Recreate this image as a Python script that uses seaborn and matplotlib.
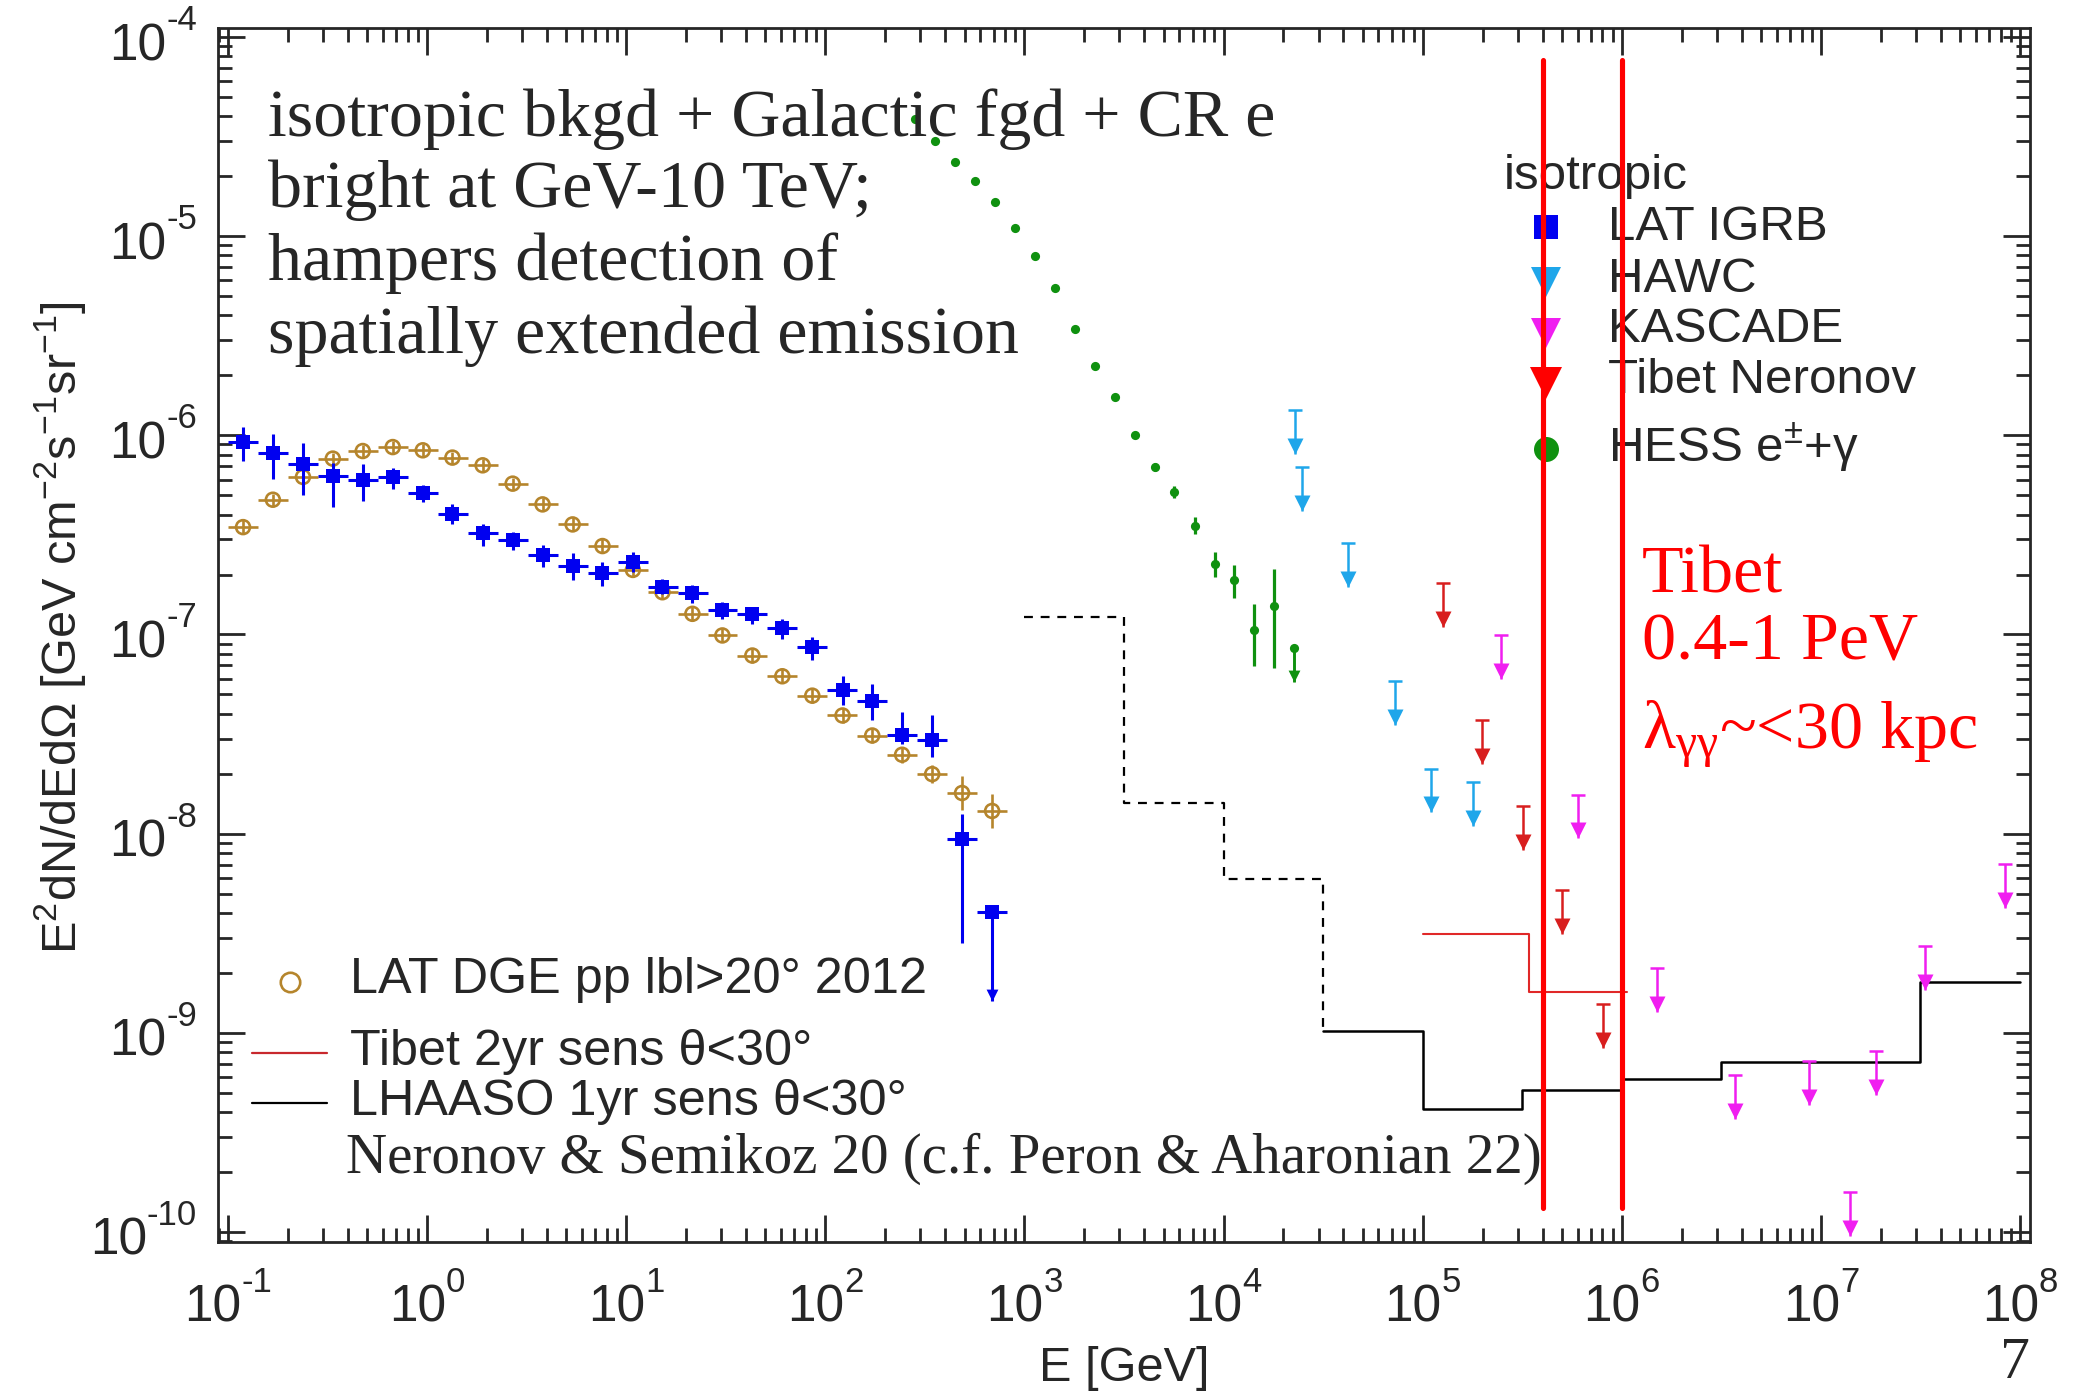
import numpy as np
import matplotlib
matplotlib.use("Agg")
import matplotlib.pyplot as plt
from matplotlib.ticker import LogLocator, NullFormatter
from matplotlib.transforms import blended_transform_factory, offset_copy
import seaborn as sns

# ---------------------------------------------------------------- data
# energies in GeV, fluxes E^2 dN/dE dOmega in GeV cm^-2 s^-1 sr^-1

# Fermi-LAT isotropic gamma-ray background (IGRB)
igrb_edges = [0.100, 0.141, 0.200, 0.283, 0.400, 0.566, 0.800, 1.13, 1.60,
              2.26, 3.20, 4.53, 6.40, 9.05, 12.8, 18.1, 25.6, 36.2, 51.2,
              72.4, 102.0, 145.0, 205.0, 290.0, 410.0, 580.0, 820.0]
igrb_energy = [0.119, 0.168, 0.238, 0.336, 0.475, 0.672, 0.951, 1.34, 1.90,
               2.69, 3.80, 5.38, 7.60, 10.8, 15.2, 21.5, 30.4, 43.0, 60.8,
               86.0, 122.0, 172.0, 243.0, 344.0, 486.0, 688.0]
igrb_flux = [9.25e-7, 8.15e-7, 7.15e-7, 6.25e-7, 5.98e-7, 6.18e-7, 5.15e-7,
             4.05e-7, 3.24e-7, 2.99e-7, 2.51e-7, 2.20e-7, 2.04e-7, 2.31e-7,
             1.73e-7, 1.61e-7, 1.33e-7, 1.27e-7, 1.08e-7, 8.63e-8, 5.24e-8,
             4.66e-8, 3.13e-8, 2.96e-8, 9.4e-9, 4.06e-9]
igrb_flux_hi = [1.10e-6, 1.02e-6, 9.14e-7, 7.26e-7, 7.21e-7, 6.89e-7, 5.61e-7,
                4.54e-7, 3.57e-7, 3.27e-7, 2.80e-7, 2.56e-7, 2.31e-7, 2.59e-7,
                1.90e-7, 1.78e-7, 1.45e-7, 1.38e-7, 1.20e-7, 9.68e-8, 6.17e-8,
                5.61e-8, 4.07e-8, 3.96e-8, 1.26e-8, 4.06e-9]
igrb_flux_lo = [7.40e-7, 6.05e-7, 4.99e-7, 4.39e-7, 4.68e-7, 5.40e-7, 4.63e-7,
                3.57e-7, 2.78e-7, 2.67e-7, 2.18e-7, 1.88e-7, 1.76e-7, 2.06e-7,
                1.60e-7, 1.44e-7, 1.19e-7, 1.13e-7, 9.51e-8, 7.46e-8, 4.45e-8,
                3.73e-8, 2.82e-8, 2.42e-8, 2.81e-9, 1.45e-9]
igrb_limit_index = [25]

# Fermi-LAT diffuse Galactic emission, |b| > 20 deg (same energy bins)
dge_flux = [3.46e-7, 4.75e-7, 6.18e-7, 7.64e-7, 8.34e-7, 8.73e-7, 8.41e-7,
            7.73e-7, 7.07e-7, 5.72e-7, 4.50e-7, 3.57e-7, 2.78e-7, 2.11e-7,
            1.63e-7, 1.27e-7, 9.89e-8, 7.84e-8, 6.17e-8, 4.93e-8, 3.92e-8,
            3.11e-8, 2.49e-8, 1.99e-8, 1.60e-8, 1.30e-8]
dge_err_dex = [0.035, 0.030, 0.030, 0.030, 0.030, 0.030, 0.030, 0.030, 0.030,
               0.030, 0.030, 0.035, 0.035, 0.035, 0.035, 0.035, 0.035, 0.035,
               0.035, 0.035, 0.040, 0.040, 0.040, 0.045, 0.087, 0.085]

# H.E.S.S. electrons + gamma
hess_energy = [282.2, 356.9, 449.8, 566.9, 714.2, 900.3, 1130, 1425, 1796,
               2262, 2851, 3581, 4511, 5661, 7166, 9033, 11330, 14280, 17990]
hess_flux = [3.89e-5, 3.00e-5, 2.35e-5, 1.90e-5, 1.49e-5, 1.10e-5, 7.94e-6,
             5.47e-6, 3.41e-6, 2.24e-6, 1.56e-6, 1.00e-6, 6.91e-7, 5.18e-7,
             3.51e-7, 2.26e-7, 1.87e-7, 1.05e-7, 1.39e-7]
hess_flux_hi = [3.89e-5, 3.00e-5, 2.35e-5, 1.90e-5, 1.49e-5, 1.10e-5, 7.94e-6,
                5.47e-6, 3.41e-6, 2.24e-6, 1.56e-6, 1.00e-6, 7.24e-7, 5.57e-7,
                3.88e-7, 2.59e-7, 2.24e-7, 1.42e-7, 2.13e-7]
hess_flux_lo = [3.89e-5, 3.00e-5, 2.35e-5, 1.90e-5, 1.49e-5, 1.10e-5, 7.94e-6,
                5.47e-6, 3.41e-6, 2.24e-6, 1.56e-6, 1.00e-6, 6.59e-7, 4.82e-7,
                3.21e-7, 1.94e-7, 1.52e-7, 6.92e-8, 6.75e-8]
hess_limit_energy = [22600]
hess_limit_flux = [8.57e-8]

# upper limits
hawc_energy = [22860, 24890, 42070, 72610, 110700, 178600]
hawc_flux = [1.34e-6, 6.92e-7, 2.89e-7, 5.82e-8, 2.12e-8, 1.82e-8]

kascade_energy = [2.477e5, 5.998e5, 1.507e6, 3.690e6, 8.690e6, 1.406e7,
                  1.888e7, 3.327e7, 8.395e7]
kascade_flux = [9.9e-8, 1.57e-8, 2.12e-9, 6.12e-10, 7.21e-10, 1.58e-10,
                8.07e-10, 2.73e-9, 7.02e-9]

tibet_energy = [1.262e5, 1.995e5, 3.206e5, 5.035e5, 8.017e5]
tibet_flux = [1.82e-7, 3.70e-8, 1.37e-8, 5.19e-9, 1.40e-9]

# point-source sensitivities (binned)
tibet_sens_edges = [1.0e5, 3.43e5, 1.06e6]
tibet_sens = [3.12e-9, 1.60e-9]

lhaaso_edges = [1e3, 3.162e3, 1e4, 3.162e4, 1e5, 3.162e5, 1e6, 3.162e6, 1e7,
                3.162e7, 1e8]
lhaaso_sens = [1.23e-7, 1.42e-8, 5.90e-9, 1.02e-9, 4.13e-10, 5.18e-10,
               5.84e-10, 7.12e-10, 7.12e-10, 1.79e-9]
lhaaso_dashed_bins = 3

# Tibet energy band (GeV)
tibet_band = [4e5, 1e6]

# decades labelled on the axes
x_decades = [1e-1, 1e0, 1e1, 1e2, 1e3, 1e4, 1e5, 1e6, 1e7, 1e8]
y_decades = [1e-10, 1e-9, 1e-8, 1e-7, 1e-6, 1e-5, 1e-4]

# ---------------------------------------------------------------- style
BLUE = "#0000f0"
GOLD = "#b5852c"
GREEN = "#0f910f"
SKY = "#1fa6ea"
MAGENTA = "#f01ef0"
TIBET_RED = "#d81e1e"
RED = "#ff0000"
FRAME = "#262626"

sns.set_theme(style="ticks")
plt.rcParams.update({
    "font.family": ["Liberation Sans", "DejaVu Sans"],
    "mathtext.default": "regular",
    "axes.edgecolor": FRAME,
    "axes.linewidth": 2.0,
    "xtick.color": FRAME,
    "ytick.color": FRAME,
    "figure.facecolor": "white",
    "axes.facecolor": "white",
})

W, H = 2078, 1393
fig = plt.figure(figsize=(W / 100, H / 100), dpi=100)
ax = fig.add_axes([218 / W, (H - 1242) / H, 1812 / W, 1214 / H])
ax.set_xscale("log")
ax.set_yscale("log")
ax.set_xlim(10 ** -1.0502, 10 ** 8.0502)
ax.set_ylim(10 ** -10.0503, 10 ** -3.9548)

PX_PER_DEX = 1214 / (np.log10(ax.get_ylim()[1]) - np.log10(ax.get_ylim()[0]))


def arrow_heads(x, tip, color, size):
    """Downward triangles whose tips sit on `tip`."""
    half_px = size * 100 / 72 / 2
    centre = np.asarray(tip) * 10 ** (half_px / PX_PER_DEX)
    sns.scatterplot(x=list(x), y=list(centre), marker="v", s=size ** 2,
                    color=color, linewidth=0, ax=ax, zorder=4, legend=False)


def upper_limits(x, flux, color, drop_dex=0.22, head=11.5, cap=True, lw=1.8):
    x = np.asarray(x, float)
    flux = np.asarray(flux, float)
    tip = flux * 10 ** (-drop_dex)
    ax.vlines(x, tip, flux, colors=color, lw=lw, zorder=3)
    if cap:
        ax.plot(x, flux, ls="none", marker="_", ms=10, mew=lw, color=color,
                zorder=3)
    arrow_heads(x, tip, color, head)


# ---- LAT diffuse Galactic emission
e = np.array(igrb_energy)
edges = np.array(igrb_edges)
xerr = [e - edges[:-1], edges[1:] - e]
f = np.array(dge_flux)
err = np.array(dge_err_dex)
ax.errorbar(e, f, xerr=xerr, yerr=[f - f * 10 ** -err, f * 10 ** err - f],
            fmt="none", ecolor=GOLD, elinewidth=1.9, capsize=0, zorder=2)
sns.scatterplot(x=e, y=f, marker="o", s=10 ** 2, color=GOLD,
                facecolor="none", edgecolor=GOLD, linewidth=1.9, ax=ax,
                zorder=3, legend=False)

# ---- LAT IGRB
f = np.array(igrb_flux)
ax.errorbar(e, f, xerr=xerr,
            yerr=[f - np.array(igrb_flux_lo), np.array(igrb_flux_hi) - f],
            fmt="none", ecolor=BLUE, elinewidth=2.2, capsize=0, zorder=3)
sns.scatterplot(x=e, y=f, marker="s", s=9.5 ** 2, color=BLUE, linewidth=0,
                ax=ax, zorder=4, legend=False)
arrow_heads(e[igrb_limit_index], np.array(igrb_flux_lo)[igrb_limit_index],
            BLUE, 8.5)

# ---- HESS e+- + gamma
hf = np.array(hess_flux)
ax.errorbar(hess_energy, hf,
            yerr=[hf - np.array(hess_flux_lo), np.array(hess_flux_hi) - hf],
            fmt="none", ecolor=GREEN, elinewidth=2.3, capsize=0, zorder=3)
sns.scatterplot(x=hess_energy, y=hess_flux, marker="o", s=6.6 ** 2,
                color=GREEN, linewidth=0, ax=ax, zorder=4, legend=False)
sns.scatterplot(x=hess_limit_energy, y=hess_limit_flux, marker="o",
                s=6.6 ** 2, color=GREEN, linewidth=0, ax=ax, zorder=4,
                legend=False)
upper_limits(hess_limit_energy, hess_limit_flux, GREEN, drop_dex=0.17,
             head=8.5, cap=False, lw=2.1)

# ---- upper limits
upper_limits(hawc_energy, hawc_flux, SKY)
upper_limits(kascade_energy, kascade_flux, MAGENTA)
upper_limits(tibet_energy, tibet_flux, TIBET_RED)

# ---- sensitivities
d = lhaaso_dashed_bins
sns.lineplot(x=lhaaso_edges[:d + 1], y=lhaaso_sens[:d] + [lhaaso_sens[d]],
             drawstyle="steps-post", color="black", lw=1.6,
             linestyle=(0, (4, 3.5)), sort=False, estimator=None, ax=ax,
             zorder=2)
sns.lineplot(x=lhaaso_edges[d:], y=lhaaso_sens[d:] + [lhaaso_sens[-1]],
             drawstyle="steps-post", color="black", lw=1.8, sort=False,
             estimator=None, ax=ax, zorder=2)
sns.lineplot(x=tibet_sens_edges, y=tibet_sens + [tibet_sens[-1]],
             drawstyle="steps-post", color="#e02828", lw=1.5, sort=False,
             estimator=None, ax=ax, zorder=2)

# ---- Tibet band
for eb in tibet_band:
    ax.axvline(eb, ymin=0.028, ymax=0.9736, color=RED, lw=3.7, zorder=7)

# ---------------------------------------------------------------- axes
for axis in (ax.xaxis, ax.yaxis):
    axis.set_major_locator(LogLocator(base=10, numticks=30))
    axis.set_minor_locator(LogLocator(base=10, subs=np.arange(2, 10),
                                      numticks=300))
    axis.set_minor_formatter(NullFormatter())
ax.tick_params(which="both", direction="in", top=True, right=True, width=2,
               labelbottom=False, labelleft=False)
ax.tick_params(which="major", length=19.5)
ax.tick_params(which="minor", length=10)
for s in ax.spines.values():
    s.set_zorder(8)

# decade labels: "10" with a raised exponent
renderer = fig.canvas.get_renderer()
BASE_PT, SUP_PT = 37, 25


def decade_label(pos, axis):
    exp = str(int(round(np.log10(pos))))
    if axis == "x":
        tr = blended_transform_factory(ax.transData, ax.transAxes)
        xy = (pos, 0)
    else:
        tr = blended_transform_factory(ax.transAxes, ax.transData)
        xy = (0, pos)
    base = ax.text(*xy, "10", transform=tr, fontsize=BASE_PT, va="baseline",
                   ha="left", clip_on=False)
    sup = ax.text(*xy, exp, transform=tr, fontsize=SUP_PT, va="baseline",
                  ha="left", clip_on=False)
    wb = base.get_window_extent(renderer).width
    ws = sup.get_window_extent(renderer).width
    if axis == "x":
        x0, yb, ys = -(wb + ws) / 2, -80, -50
    else:
        x0, yb, ys = -21 - ws - wb, -23, 7
    base.set_transform(offset_copy(tr, fig=fig, x=x0, y=yb, units="dots"))
    sup.set_transform(offset_copy(tr, fig=fig, x=x0 + wb, y=ys, units="dots"))


for v in x_decades:
    decade_label(v, "x")
for v in y_decades:
    decade_label(v, "y")

ax.set_xlabel("E [GeV]", fontsize=35)
ax.xaxis.label.set_verticalalignment("center")
ax.xaxis.set_label_coords(0.5, -0.104)
ax.set_ylabel(r"E$^{2}$dN/dEdΩ [GeV cm$^{-2}$s$^{-1}$sr$^{-1}$]", fontsize=35)
ax.yaxis.label.set_verticalalignment("center")
ax.yaxis.set_label_coords(-0.087, 0.506)

# ---------------------------------------------------------------- legends
T = ax.transAxes
mx, tx = 0.7329, 0.7672
ax.text(0.7093, 0.8674, "isotropic", transform=T, fontsize=35.5,
        va="baseline", zorder=5)
rows = [
    ("s", BLUE, 17, 0.8359, 0.8254, "LAT IGRB"),
    ("v", SKY, 21, 0.7904, 0.7828, "HAWC"),
    ("v", MAGENTA, 21, 0.7485, 0.7416, "KASCADE"),
    ("v", RED, 22.5, 0.7073, 0.6993, "Tibet Neronov"),
    ("o", GREEN, 18, 0.6531, 0.6428, r"HESS e$^{±}$+γ"),
]
for mk, col, ms, my, ty, lab in rows:
    ax.plot([mx], [my], transform=T, ls="none", marker=mk, ms=ms, color=col,
            mew=0, zorder=5)
    ax.text(tx, ty, lab, transform=T, fontsize=35.5, va="baseline", zorder=5)

LEG_PT = 36.3
ax.plot([0.0397], [0.2144], transform=T, ls="none", marker="o", ms=14,
        mfc="none", mec=GOLD, mew=1.9, zorder=5)
ax.text(0.073, 0.2048, "LAT DGE pp lbl>20° 2012", transform=T,
        fontsize=LEG_PT, va="baseline")
ax.plot([0.0186, 0.0604], [0.1559, 0.1559], transform=T, color="#c8282d",
        lw=1.6)
ax.text(0.073, 0.1458, "Tibet 2yr sens θ<30°", transform=T, fontsize=LEG_PT,
        va="baseline")
ax.plot([0.0186, 0.0604], [0.1147, 0.1147], transform=T, color="black",
        lw=1.6)
ax.text(0.073, 0.1046, "LHAASO 1yr sens θ<30°", transform=T,
        fontsize=LEG_PT, va="baseline")
ax.text(0.0709, 0.0568, "Neronov & Semikoz 20 (c.f. Peron & Aharonian 22)",
        transform=T, fontsize=41, family="Liberation Serif", va="baseline",
        zorder=6)

# ---------------------------------------------------------------- notes
serif = "Liberation Serif"
note = ["isotropic bkgd + Galactic fgd + CR e",
        "bright at GeV-10 TeV;",
        "hampers detection of",
        "spatially extended emission"]
for line, y in zip(note, [0.9110, 0.8526, 0.7924, 0.7319]):
    ax.text(0.0274, y, line, transform=T, fontsize=49, family=serif,
            va="baseline", zorder=6)

band_note = ["Tibet", "0.4-1 PeV", r"λ$_{γγ}$~<30 kpc"]
for line, y in zip(band_note, [0.5348, 0.4800, 0.4067]):
    ax.text(0.7857, y, line, transform=T, fontsize=49, family=serif,
            color=RED, va="baseline", zorder=6)

# slide number
fig.text(2015 / W, 1 - 1378 / H, "7", ha="center", va="baseline", fontsize=43,
         family=serif)

fig.savefig("out.png", dpi=100)
